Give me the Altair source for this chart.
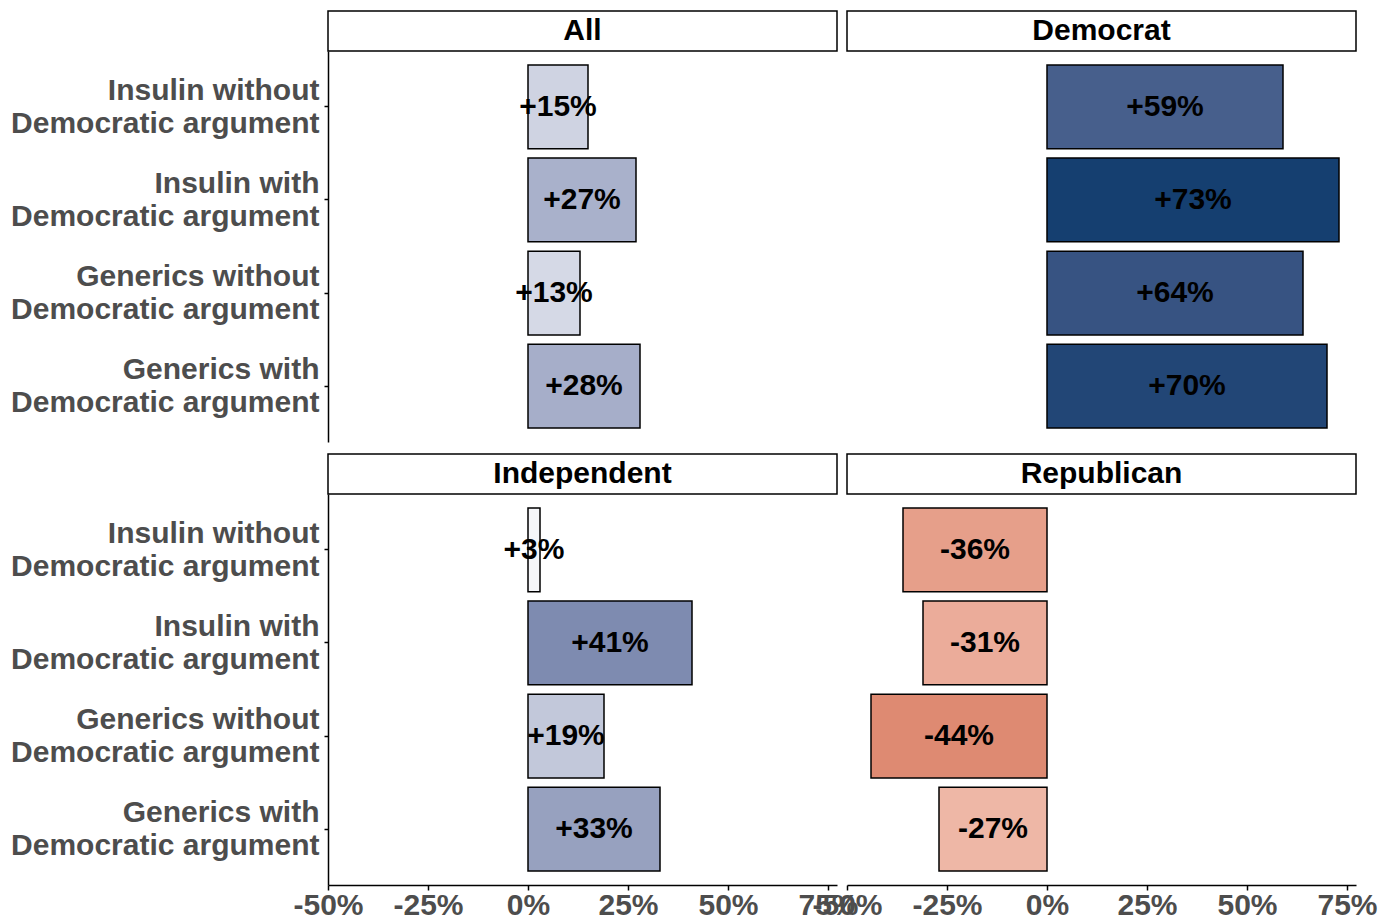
import altair as alt
import pandas as pd

groups = ["All", "Democrat", "Independent", "Republican"]
conditions = [
    "Insulin without\nDemocratic argument",
    "Insulin with\nDemocratic argument",
    "Generics without\nDemocratic argument",
    "Generics with\nDemocratic argument",
]
all_vals = [15, 27, 13, 28]
dem_vals = [59, 73, 64, 70]
ind_vals = [3, 41, 19, 33]
rep_vals = [-36, -31, -44, -27]
x_ticks = [-0.5, -0.25, 0, 0.25, 0.5, 0.75]

series = {"All": all_vals, "Democrat": dem_vals, "Independent": ind_vals, "Republican": rep_vals}
rows = []
for g in groups:
    for c, v in zip(conditions, series[g]):
        rows.append({"group": g, "condition": c, "value": v / 100})
df = pd.DataFrame(rows)

FONT = "Liberation Sans"
FS = 30
W, H = 509, 391
HEADER_H = 40

color_scale = alt.Scale(
    domain=[-0.44, 0, 0.41, 0.73],
    range=["#DE8A72", "#FFFFFF", "#7E8BB0", "#153F70"],
    interpolate="lab",
)
x_scale = alt.Scale(domain=[-0.5, 0.7725], nice=False, zero=False)
y_scale = alt.Scale(paddingInner=0.1, paddingOuter=0.15)

label_expr_x = "(datum.value < 0 ? '-' : '') + format(abs(datum.value), '.0%')"


def panel(g, idx):
    left = idx % 2 == 0
    bottom = idx >= 2
    x_axis = alt.Axis(
        values=x_ticks, labelExpr=label_expr_x, grid=False, domainColor="black",
        domainWidth=1.5, tickColor="black", tickSize=5, tickWidth=1.5,
        labelFont=FONT, labelFontSize=FS, labelFontWeight="bold", labelColor="#4D4D4D",
        labelPadding=0, title=None, labelOverlap=False, labelFlush=False,
    ) if bottom else None
    y_axis = alt.Axis(
        labelExpr="split(datum.label, '\\n')", grid=False, domainColor="black",
        domainWidth=1.5, tickColor="black", tickSize=4, tickWidth=1.5,
        labelFont=FONT, labelFontSize=FS, labelFontWeight="bold", labelColor="#4D4D4D",
        labelPadding=5, labelLineHeight=33, title=None, labelAlign="right",
        labelBaseline="middle", labelLimit=0, labelOffset=-16,
    ) if left else None

    base = alt.Chart(df).transform_filter(alt.datum.group == g).transform_calculate(
        mid="datum.value / 2",
        label="(datum.value > 0 ? '+' : '-') + format(abs(datum.value), '.0%')",
    )
    bars = base.mark_bar(stroke="black", strokeWidth=1.5).encode(
        x=alt.X("value:Q", scale=x_scale, axis=x_axis),
        x2=alt.X2(datum=0),
        y=alt.Y("condition:N", sort=conditions, scale=y_scale, axis=y_axis),
        color=alt.Color("value:Q", scale=color_scale, legend=None),
    )
    labels = base.mark_text(font=FONT, fontSize=FS, fontWeight="bold", color="black",
                            baseline="middle", align="center").encode(
        x=alt.X("mid:Q", scale=x_scale, axis=x_axis),
        y=alt.Y("condition:N", sort=conditions, scale=y_scale, axis=y_axis),
        text="label:N",
    )
    hdf = pd.DataFrame({"group": [g]})
    hrect = alt.Chart(hdf).mark_rect(fill="white", stroke="black", strokeWidth=1.5).encode(
        x=alt.value(0), x2=alt.value(W), y=alt.value(-HEADER_H), y2=alt.value(0)
    )
    htext = alt.Chart(hdf).mark_text(font=FONT, fontSize=FS, fontWeight="bold", color="black",
                                     baseline="middle", align="center").encode(
        x=alt.value(W / 2), y=alt.value(-HEADER_H / 2), text="group:N"
    )
    return alt.layer(bars, labels, hrect, htext).properties(width=W, height=H)


panels = [panel(g, i) for i, g in enumerate(groups)]
chart = alt.concat(
    *panels, columns=2, spacing=alt.RowColnumber(row=52, column=10), bounds="flush"
).properties(
    padding={"left": 2, "top": 2, "right": 0, "bottom": -4},
    background="white",
).configure_view(strokeOpacity=0, strokeWidth=0)

chart.save("out.html", embed_options={"renderer": "svg", "actions": False})
